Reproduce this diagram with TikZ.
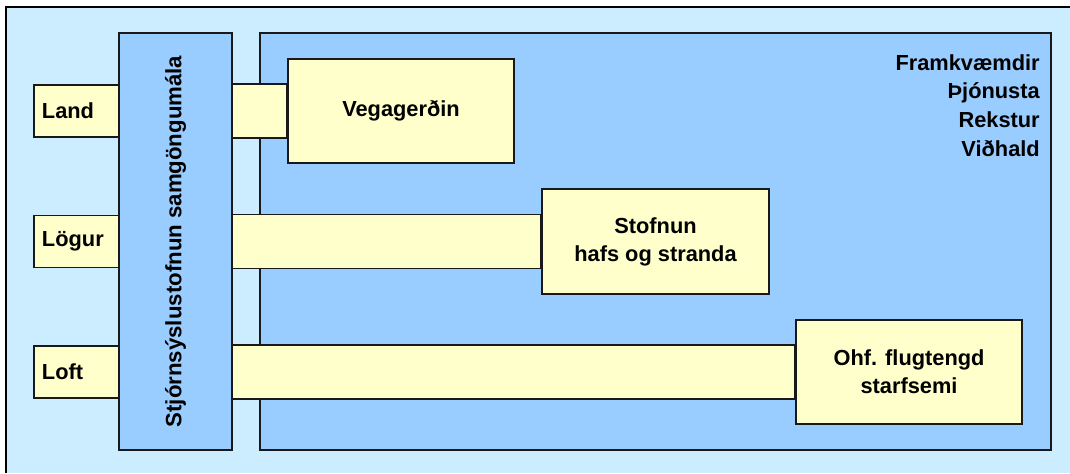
\documentclass[tikz,border=0pt]{standalone}
\usepackage{fontspec}
\setmainfont{Liberation Sans}
\usepackage{tikz}
\usetikzlibrary{positioning}

\definecolor{skyblue}{HTML}{CCECFF}
\definecolor{panelblue}{HTML}{99CCFF}
\definecolor{paleyellow}{HTML}{FFFFCC}

\tikzset{
  txt/.style={font=\fontsize{15.5}{20}\selectfont\bfseries},
  bluebox/.style={draw=black!90, line width=1.2pt, fill=panelblue, inner sep=0pt},
  agency/.style={draw=black!90, line width=1.2pt, fill=paleyellow, align=center, txt,
                 minimum width=5.65cm, minimum height=2.6cm},
  mode/.style={draw=black!90, line width=1.2pt, fill=paleyellow, txt, align=left,
               inner xsep=0.2cm, text width=1.725cm, minimum height=1.3cm},
  link/.style={draw=black!90, line width=1.2pt, fill=paleyellow}
}

\begin{document}
\begin{tikzpicture}[x=0.025cm, y=-0.025cm]
  \useasboundingbox (0,0) rectangle (1070,473);

  % Background frame
  \fill[skyblue] (6,7) rectangle (1070,473);
  \draw[line width=1.2pt] (1070,7) -- (6,7) -- (6,473);

  % Main panel
  \node[bluebox, minimum width=19.775cm, minimum height=10.425cm] (panel) at (655.5,241.5) {};

  % Agencies
  \node[agency] (vega) at (401,111) {Vegagerðin};
  \node[agency, minimum width=5.675cm, minimum height=2.625cm] (stofnun) at (655.5,241.5)
    {Stofnun\\hafs og stranda};
  \node[agency] (ohf) at (909,372) {Ohf. flugtengd\\starfsemi};

  % Transport modes
  \node[mode] (land)  at (76.5,111)   {Land};
  \node[mode] (logur) at (76.5,241.5) {Lögur};
  \node[mode] (loft)  at (76.5,372)   {Loft};

  % Links from modes to agencies
  \draw[link] (land.north east)  rectangle (vega.west |- land.south);
  \draw[link] (logur.north east) rectangle (stofnun.west |- logur.south);
  \draw[link] (loft.north east)  rectangle (ohf.west |- loft.south);

  % Ministry bar
  \node[bluebox, font=\fontsize{15.8}{20}\selectfont\bfseries, rotate=90,
        minimum width=10.425cm, minimum height=2.825cm] (bar)
    at (175.5,241.5) {Stjórnsýslustofnun samgöngumála};

  % Tasks
  \node[font=\fontsize{15.5}{20.4}\selectfont\bfseries, align=right, anchor=north east,
        inner sep=0pt] (tasks) at (1040,54)
    {Framkvæmdir\\Þjónusta\\Rekstur\\Viðhald};
\end{tikzpicture}
\end{document}
